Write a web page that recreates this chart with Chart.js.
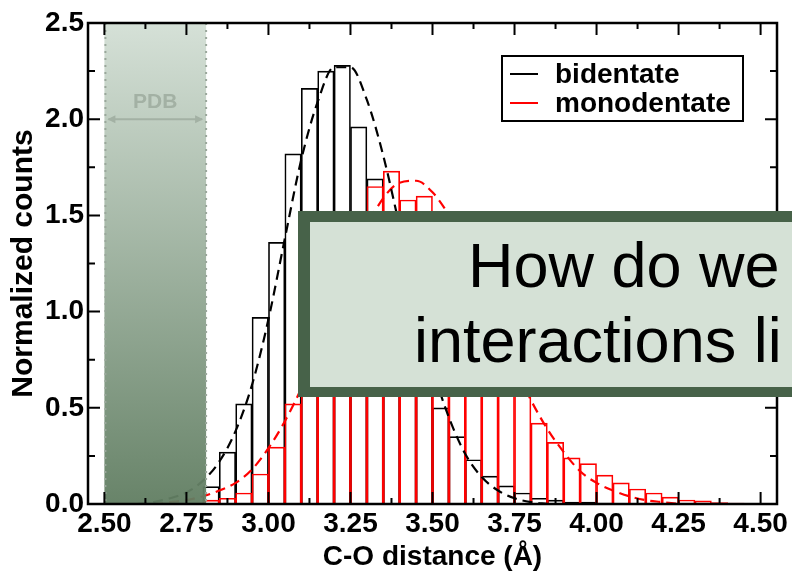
<!DOCTYPE html>
<html>
<head>
<meta charset="utf-8">
<script src="https://cdn.jsdelivr.net/npm/chart.js@4.4.1/dist/chart.umd.min.js"></script>
<style>
  html, body { margin: 0; padding: 0; background: #fff; }
</style>
</head>
<body>
<canvas id="myChart" width="792" height="571"></canvas>
<script>
// histogram bins (centres, width 0.05 Å)
const binCenters = [2.825, 2.875, 2.925, 2.975, 3.025, 3.075, 3.125, 3.175, 3.225, 3.275,
                    3.325, 3.375, 3.425, 3.475, 3.525, 3.575, 3.625, 3.675, 3.725, 3.775,
                    3.825, 3.875, 3.925, 3.975, 4.025, 4.075, 4.125, 4.175, 4.225, 4.275,
                    4.325, 4.375, 4.425, 4.475];
const bidentateCounts = [0.09, 0.27, 0.52, 0.97, 1.36, 1.82, 2.16, 2.25, 2.28, 1.96,
                         1.69, 1.45, 1.12, 0.78, 0.50, 0.35, 0.23, 0.145, 0.094, 0.057,
                         0.03, 0.02, 0.01, 0.01, 0.005, 0, 0, 0, 0, 0,
                         0, 0, 0, 0];
const monodentateCounts = [0.02, 0.03, 0.057, 0.156, 0.296, 0.52, 0.78, 1.0, 1.25, 1.45,
                           1.65, 1.73, 1.58, 1.60, 1.48, 1.35, 1.15, 0.95, 0.78, 0.62,
                           0.42, 0.32, 0.24, 0.21, 0.15, 0.11, 0.078, 0.057, 0.036, 0.021,
                           0.016, 0.008, 0.005, 0.003];

// fitted curves
const fitX = [2.60, 2.65, 2.70, 2.75, 2.80, 2.85, 2.90, 2.95, 3.00, 3.05,
              3.10, 3.15, 3.20, 3.25, 3.30, 3.35, 3.40, 3.45, 3.50, 3.55,
              3.60, 3.65, 3.70, 3.75, 3.80, 3.85, 3.90, 3.95, 4.00, 4.05,
              4.10, 4.15, 4.20, 4.25];
const bidentateFit = [0.00, 0.01, 0.03, 0.06, 0.12, 0.22, 0.38, 0.62, 0.96, 1.38,
                      1.79, 2.09, 2.27, 2.27, 2.10, 1.81, 1.44, 1.06, 0.71, 0.45,
                      0.26, 0.14, 0.07, 0.03, 0.01, 0.00, null, null, null, null,
                      null, null, null, null];
const monodentateFit = [0.00, 0.00, 0.01, 0.02, 0.04, 0.07, 0.11, 0.18, 0.29, 0.43,
                        0.60, 0.80, 1.02, 1.24, 1.44, 1.59, 1.67, 1.68, 1.62, 1.50,
                        1.33, 1.13, 0.92, 0.72, 0.54, 0.39, 0.27, 0.17, 0.11, 0.07,
                        0.04, 0.02, 0.01, 0.00];

const xTicks = [2.50, 2.75, 3.00, 3.25, 3.50, 3.75, 4.00, 4.25, 4.50];
const yTicks = [0.0, 0.5, 1.0, 1.5, 2.0, 2.5];
const pdbRange = [2.50, 2.81];

const FONT = '"Liberation Sans", Arial, Helvetica, sans-serif';
const ctx = document.getElementById('myChart');

function pts(xs, ys) {
  return xs.map((x, i) => ({ x: x, y: ys[i] }));
}

const decorPlugin = {
  id: 'decor',
  afterDatasetsDraw(chart) {
    const c = chart.ctx;
    const area = chart.chartArea;
    const xs = chart.scales.x;
    const x0 = xs.getPixelForValue(pdbRange[0]);
    const x1 = xs.getPixelForValue(pdbRange[1]);

    // PDB shaded band
    c.save();
    const g = c.createLinearGradient(0, area.top, 0, area.bottom);
    g.addColorStop(0, 'rgba(211,223,213,0.95)');
    g.addColorStop(1, 'rgba(96,125,97,0.95)');
    c.fillStyle = g;
    c.fillRect(x0, area.top, x1 - x0, area.bottom - area.top);
    c.strokeStyle = '#9aa79b';
    c.lineWidth = 2;
    c.setLineDash([2, 5]);
    c.beginPath();
    c.moveTo(x0 + 1, area.top); c.lineTo(x0 + 1, area.bottom);
    c.moveTo(x1, area.top); c.lineTo(x1, area.bottom);
    c.stroke();
    c.setLineDash([]);

    // double arrow + label
    const ay = chart.scales.y.getPixelForValue(2.0);
    c.strokeStyle = '#a3b1a4';
    c.fillStyle = '#a3b1a4';
    c.lineWidth = 2;
    c.beginPath();
    c.moveTo(x0 + 4, ay); c.lineTo(x1 - 4, ay);
    c.stroke();
    c.beginPath();
    c.moveTo(x0 + 3, ay); c.lineTo(x0 + 11, ay - 4); c.lineTo(x0 + 11, ay + 4); c.closePath();
    c.moveTo(x1 - 3, ay); c.lineTo(x1 - 11, ay - 4); c.lineTo(x1 - 11, ay + 4); c.closePath();
    c.fill();
    c.font = 'bold 21px ' + FONT;
    c.textAlign = 'center';
    c.textBaseline = 'alphabetic';
    c.fillText('PDB', (x0 + x1) / 2, ay - 11);
    c.restore();
  },
  afterDraw(chart) {
    const c = chart.ctx;
    const a = chart.chartArea;
    const xs = chart.scales.x;
    const ys = chart.scales.y;
    c.save();

    // frame with inward ticks on all sides
    c.strokeStyle = '#000';
    c.lineWidth = 2.5;
    c.strokeRect(a.left, a.top, a.right - a.left, a.bottom - a.top);
    c.lineWidth = 2;
    c.beginPath();
    xTicks.forEach((v, i) => {
      const px = xs.getPixelForValue(v);
      c.moveTo(px, a.bottom); c.lineTo(px, a.bottom - 12);
      c.moveTo(px, a.top); c.lineTo(px, a.top + 12);
      if (i < xTicks.length - 1) {
        const pm = xs.getPixelForValue((v + xTicks[i + 1]) / 2);
        c.moveTo(pm, a.bottom); c.lineTo(pm, a.bottom - 6);
        c.moveTo(pm, a.top); c.lineTo(pm, a.top + 6);
      }
    });
    yTicks.forEach((v, i) => {
      const py = ys.getPixelForValue(v);
      c.moveTo(a.left, py); c.lineTo(a.left + 12, py);
      c.moveTo(a.right, py); c.lineTo(a.right - 12, py);
      if (i < yTicks.length - 1) {
        const pm = ys.getPixelForValue((v + yTicks[i + 1]) / 2);
        c.moveTo(a.left, pm); c.lineTo(a.left + 7, pm);
        c.moveTo(a.right, pm); c.lineTo(a.right - 7, pm);
      }
    });
    c.stroke();

    // legend
    c.fillStyle = '#fff';
    c.fillRect(502, 56, 241, 65);
    c.lineWidth = 2;
    c.strokeRect(502, 56, 241, 65);
    c.font = 'bold 28px ' + FONT;
    c.textAlign = 'left';
    c.textBaseline = 'middle';
    const items = chart.data.datasets.filter(d => d.type === 'bar');
    items.forEach((d, i) => {
      const ly = 74 + i * 29;
      c.strokeStyle = d.borderColor;
      c.beginPath(); c.moveTo(510, ly); c.lineTo(538, ly); c.stroke();
      c.fillStyle = '#000';
      c.fillText(d.label, 555, ly + 1);
    });

    // slide call-out box over the plot
    c.fillStyle = '#476249';
    c.fillRect(298, 211, 560, 186);
    c.fillStyle = '#d5e1d6';
    c.fillRect(310, 222, 560, 165);
    c.fillStyle = '#000';
    c.font = '63px ' + FONT;
    c.textBaseline = 'alphabetic';
    c.fillText('How do we', 468, 287);
    c.fillText('interactions li', 414, 362);
    c.restore();
  }
};

new Chart(ctx, {
  data: {
    datasets: [
      {
        type: 'line', label: 'bidentate fit', data: pts(fitX, bidentateFit),
        borderColor: '#000', borderWidth: 2.2, borderDash: [10, 6],
        pointRadius: 0, cubicInterpolationMode: 'monotone', fill: false, order: 0
      },
      {
        type: 'line', label: 'monodentate fit', data: pts(fitX, monodentateFit),
        borderColor: '#ff0000', borderWidth: 2.2, borderDash: [10, 6],
        pointRadius: 0, cubicInterpolationMode: 'monotone', fill: false, order: 0
      },
      {
        type: 'bar', label: 'bidentate', data: pts(binCenters, bidentateCounts),
        backgroundColor: 'rgba(0,0,0,0)', borderColor: '#000', borderWidth: 1,
        grouped: false, barPercentage: 1, categoryPercentage: 1, order: 2
      },
      {
        type: 'bar', label: 'monodentate', data: pts(binCenters, monodentateCounts),
        backgroundColor: 'rgba(0,0,0,0)', borderColor: '#ff0000', borderWidth: 1,
        grouped: false, barPercentage: 1, categoryPercentage: 1, order: 1
      }
    ]
  },
  options: {
    responsive: false,
    animation: false,
    layout: { padding: { top: 23, right: 15, left: 0, bottom: 0 } },
    plugins: { legend: { display: false }, tooltip: { enabled: false } },
    scales: {
      x: {
        type: 'linear', min: 2.45, max: 4.55, offset: false,
        afterBuildTicks: s => { s.ticks = xTicks.map(v => ({ value: v })); },
        afterFit: s => { s.height = 67; },
        grid: { display: false, drawTicks: false, offset: false },
        border: { display: false },
        ticks: {
          padding: 3, color: '#000', maxRotation: 0, autoSkip: false,
          font: { family: FONT, size: 28, weight: 'bold' },
          callback: v => Number(v).toFixed(2)
        },
        title: {
          display: true, text: 'C-O distance (Å)', color: '#000',
          font: { family: FONT, size: 28, weight: 'bold' },
          padding: { top: 0, bottom: -3 }
        }
      },
      y: {
        type: 'linear', min: 0, max: 2.5,
        afterBuildTicks: s => { s.ticks = yTicks.map(v => ({ value: v })); },
        afterFit: s => { s.width = 88; },
        grid: { display: false, drawTicks: false },
        border: { display: false },
        ticks: {
          padding: 4, color: '#000',
          font: { family: FONT, size: 28, weight: 'bold' },
          callback: v => Number(v).toFixed(1)
        },
        title: {
          display: true, text: 'Normalized counts', color: '#000',
          font: { family: FONT, size: 30, weight: 'bold' },
          padding: { top: 6, bottom: 0 }
        }
      }
    }
  },
  plugins: [decorPlugin]
});
</script>
</body>
</html>
